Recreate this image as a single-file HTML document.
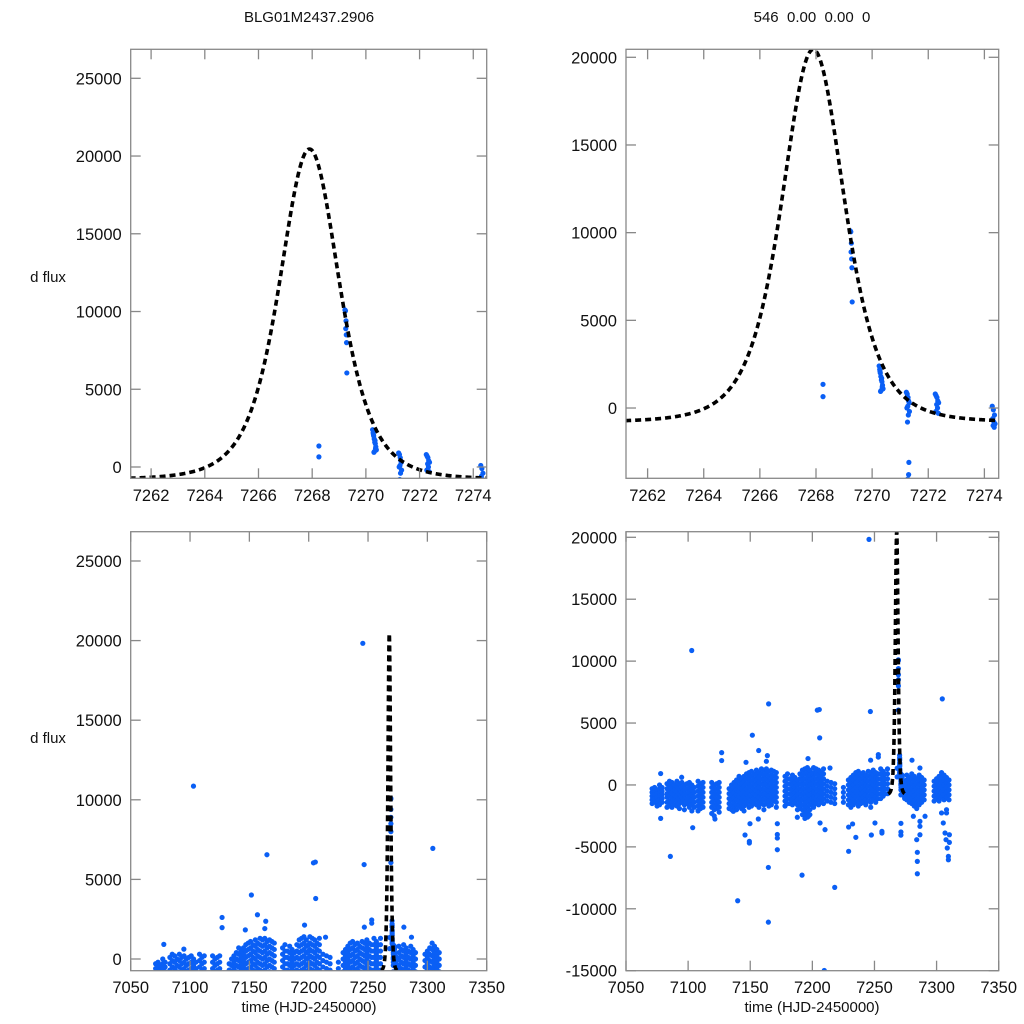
<!DOCTYPE html>
<html><head><meta charset="utf-8"><style>
html,body{margin:0;padding:0;background:#fff;overflow:hidden;width:1024px;height:1024px}
svg{display:block;font-family:"Liberation Sans",sans-serif}
</style></head><body>
<svg id="chart" width="1024" height="1024" viewBox="0 0 1024 1024" xmlns="http://www.w3.org/2000/svg">
<rect width="1024" height="1024" fill="#fff"/>
<text x="309" y="22" font-size="15" text-anchor="middle" fill="#111">BLG01M2437.2906</text>
<text x="812" y="22" font-size="15" text-anchor="middle" fill="#111" xml:space="preserve">546  0.00  0.00  0</text>
<text x="48" y="282" font-size="15" text-anchor="middle" fill="#111">d flux</text>
<text x="48" y="743" font-size="15" text-anchor="middle" fill="#111">d flux</text>
<text x="309" y="1012" font-size="15" text-anchor="middle" fill="#111">time (HJD-2450000)</text>
<text x="812" y="1012" font-size="15" text-anchor="middle" fill="#111">time (HJD-2450000)</text>
<g id="panels"></g>
</svg>
<script>
// ---- data: observation nights (time) and measured flux values ----
const nightT = [7071,7073,7075,7077,7079,7083,7085,7087,7089,7091,7093,7095,7097,7099,7101,7103,7105,7108,7110,7112,7119,7121,7123,7125,
7133,7135,7137,7139,7141,7143,7145,7147,7149,7151,7153,7155,7157,7159,7161,7163,7165,7167,7169,7171,
7178,7180,7182,7184,7186,7188,7190,7192,7194,7196,7198,7200,7201,7203,7205,7207,7209,7212,7215,7218,7225,
7229,7231,7233,7235,7237,7239,7241,7243,7245,7247,7249,7251,7253,7255,7257,7258.5,7260.5,
7276,7278,7280,7282,7284,7286,7288,7290,7298,7300,7302,7304,7306,7308,7310];
const nightF = [
[-300,-600,-900,-1200,-1500],[-200,-500,-800,-1100,-1400],[-400,-700,-1000,-1300,-1700],[0,-300,-600,-900,-1200,-1600],[-200,-500,-800,-1100,-1400],
[100,-300,-700,-1000,-1400,-1800],[300,-100,-500,-900,-1300,-1700],[200,-200,-600,-1000,-1400,-1800],[0,-400,-800,-1200,-1600],[300,-100,-500,-900,-1300,-1700],
[100,-300,-700,-1100,-1500,-1900],[200,-200,-600,-1000,-1400],[0,-400,-800,-1200,-1600,-2000],[100,-300,-700,-1100,-1500],[200,-200,-600,-1000,-1400,-1800],
[0,-400,-800,-1200,-1600,-2100],[-200,-600,-1000,-1400,-1800],
[300,-100,-500,-900,-1300,-1700,-2100],[100,-300,-700,-1100,-1500,-1900],[200,-200,-600,-1000,-1400,-1800],
[200,-200,-600,-1000,-1400,-1800,-2300],[0,-400,-800,-1200,-1600,-2000,-2500],[100,-300,-700,-1100,-1500,-1900],[200,-200,-600,-1000,-1400,-1800,-2200],
[-300,-700,-1100,-1500,-1900],[0,-400,-800,-1200,-1600,-2000],[200,-200,-600,-1000,-1400,-1800],[400,0,-400,-800,-1200,-1600,-2000],[700,300,-100,-500,-900,-1300,-1700],
[500,100,-300,-700,-1100,-1500,-1900],[700,300,-100,-500,-900,-1300,-1700,-2100],[900,500,100,-300,-700,-1100,-1500],[1000,600,200,-200,-600,-1000,-1400,-1800],
[1100,700,300,-100,-500,-900,-1300,-1700],[900,500,100,-300,-700,-1100,-1500],[1200,800,400,0,-400,-800,-1200,-1600],[1000,600,200,-200,-600,-1000,-1400,-1800],
[1300,900,500,100,-300,-700,-1100,-1500],[1200,800,400,0,-400,-800,-1200,-1600,-2000],[1300,900,500,100,-300,-700,-1100,-1500],[1100,700,300,-100,-500,-900,-1300,-1700],
[1200,800,400,0,-400,-800,-1200,-1600],[1100,700,300,-100,-500,-900,-1300],[1000,600,200,-200,-600,-1000,-1400,-1800],
[700,300,-100,-500,-900,-1300,-1700],[900,500,100,-300,-700,-1100,-1500],[500,100,-300,-700,-1100,-1500],[800,400,0,-400,-800,-1200,-1600],[600,200,-200,-600,-1000,-1400],
[400,0,-400,-800,-1200,-1600,-2000],[900,500,100,-300,-700,-1100,-1500,-1900],[1200,800,400,0,-400,-800,-1200,-1600,-2000,-2400],[1300,900,500,100,-300,-700,-1100,-1500,-1900,-2300,-2700],
[1400,1000,600,200,-200,-600,-1000,-1400,-1800,-2200,-2600],[1200,800,400,0,-400,-800,-1200,-1600,-2000,-2400],[900,500,100,-300,-700,-1100,-1500],
[1400,1000,600,200,-200,-600,-1000,-1400,-1800],[1300,900,500,100,-300,-700,-1100,-1500],[1200,800,400,0,-400,-800,-1200,-1600],[1000,600,200,-200,-600,-1000,-1400],
[1300,900,500,100,-300,-700,-1100,-1500],[300,-100,-500,-900,-1300],[200,-200,-600,-1000,-1400],[100,-300,-700,-1100,-1500],[-200,-600,-1000,-1400],
[400,0,-400,-800,-1200,-1600],[600,200,-200,-600,-1000,-1400,-1800],[800,400,0,-400,-800,-1200,-1600],[1000,600,200,-200,-600,-1000,-1400],[1100,700,300,-100,-500,-900,-1300,-1700],
[900,500,100,-300,-700,-1100,-1500],[1000,600,200,-200,-600,-1000,-1400],[800,400,0,-400,-800,-1200,-1600],[1100,700,300,-100,-500,-900,-1300],[1000,600,200,-200,-600,-1000,-1400,-1800],
[1200,800,400,0,-400,-800,-1200],[1000,600,200,-200,-600,-1000,-1400],[900,500,100,-300,-700,-1100],[1300,900,500,100,-300,-700,-1100],[1100,700,300,-100,-500,-900],
[900,500,100,-300,-700],[1300,900,500,100,-300,-700],
[800,400,0,-400,-800,-1200],[600,200,-200,-600,-1000,-1400],[900,500,100,-300,-700,-1100,-1500],[700,300,-100,-500,-900,-1300,-1700],[500,100,-300,-700,-1100,-1500,-1900],
[800,400,0,-400,-800,-1200,-1600],[600,200,-200,-600,-1000,-1400],[400,0,-400,-800,-1200],
[300,-100,-500,-900,-1300],[500,100,-300,-700,-1100],[700,300,-100,-500,-900,-1300],[1000,600,200,-200,-600,-1000],[800,400,0,-400,-800,-1200],[600,200,-200,-600,-1000],[400,0,-400,-800,-1200]
];
// event-night measurements
const eventT = [7268.25,7268.25,7269.22,7269.24,7269.26,7269.25,7269.27,7269.28,7269.29,
7270.25,7270.27,7270.29,7270.31,7270.33,7270.35,7270.37,7270.39,7270.3,7270.34,7270.28,7270.36,7270.32,
7271.22,7271.25,7271.28,7271.3,7271.32,7271.27,7271.24,7271.33,7271.29,7271.26,7271.31,7271.3,7271.27,
7272.25,7272.28,7272.31,7272.34,7272.37,7272.3,7272.33,7272.27,7272.36,
7274.28,7274.32,7274.36,7274.3,7274.34,7274.38,7274.31,7274.35];
const eventF = [1350,650,10100,10050,9400,8900,8500,8000,6050,
2400,2200,2000,1800,1600,1500,1300,1100,950,1700,2100,1200,1000,
900,800,600,400,300,100,0,-200,-400,-800,-3100,-3800,-4050,
800,700,600,400,300,200,0,-200,-300,
100,-100,-400,-600,-800,-900,-1000,-1100];
// outliers
const outT = [7245.6,7102.9,7164.8,7204,7205.6,7246.7,7304.6,7151.7,7205.9,7156.8,7127,7127,7163.8,7163,7146.6,7196.5,7253.1,7253.1,7246.9,7280.2,7286.6,7077.9,7094.8,7214.2,
7077.9,7103.7,7085.7,7139.9,7164.6,7164.6,7191.7,7218,7209.6,7229.2,7145.8,7149.3,7149.3,7171.8,7171.8,7171.8,7171.8,7149.8,7229.2,7232.4,7235,7247.5,7250.4,7256,7256,
7284,7284.5,7284.5,7284.5,7286.6,7286.6,7286.6,7281.3,7290.7,7308,7308,7304,7305.4,7306.8,7307.6,7308.6,7309.5,7309.5,7310.3,7310.3,7187.9,7196.8,7206.2,7210.2,7136.4,7156.5,7121.6];
const outF = [19830,10860,6550,6040,6090,5930,6950,4020,3800,2780,2610,1970,2370,1910,1830,2130,2450,2250,2000,2000,1370,920,620,1370,
-2700,-3450,-5770,-9350,-11080,-6660,-7280,-8270,-14980,-5360,-4040,-4550,-4690,-4000,-4290,-5230,-3130,-3130,-3400,-3150,-4230,-4040,-3070,-3750,-3880,
-4420,-5440,-6170,-7170,-3340,-2940,-4020,-2530,-2530,-2000,-2260,-2260,-3070,-3880,-4420,-5090,-5770,-6040,-4020,-4640,-2610,-2530,-3070,-3610,-2130,-2750,-2750];
// model curve parameters: t0, peak flux, baseline, width, exponent
const modelParams = [7267.9, 20450, -800, 2.33, 2.5];
const modelRange = [7261.2, 7274.5];
// axis tick values
const ticksXZoom = [7262,7264,7266,7268,7270,7272,7274];
const ticksXFull = [7050,7100,7150,7200,7250,7300,7350];
const ticksYA = [0,5000,10000,15000,20000,25000];
const ticksYB = [0,5000,10000,15000,20000];
const ticksYD = [-15000,-10000,-5000,0,5000,10000,15000,20000];

const panels = [
 {name:'top-left',L:130.7,R:486.7,T:49.3,B:478.3,x0:7261.24,x1:7274.5,y0:-727,y1:26865,xt:ticksXZoom,yt:ticksYA,xl:495},
 {name:'top-right',L:626,R:998.7,T:49.3,B:478.3,x0:7261.23,x1:7274.51,y0:-4008,y1:20456,xt:ticksXZoom,yt:ticksYB,xl:495},
 {name:'bottom-left',L:130.7,R:486.7,T:531.7,B:970.7,x0:7050,x1:7350,y0:-735,y1:26840,xt:ticksXFull,yt:ticksYA,xl:987},
 {name:'bottom-right',L:626,R:998.7,T:531.7,B:970.7,x0:7050,x1:7350,y0:-15000,y1:20452,xt:ticksXFull,yt:ticksYD,xl:987}
];
function model(t){const [t0,pk,base,w,p]=modelParams;const x=(t-t0)/w;return base+(pk-base)*Math.pow(1+x*x,-p);}
const NS='http://www.w3.org/2000/svg';
function mk(tag,attrs,parent){const e=document.createElementNS(NS,tag);for(const k in attrs)e.setAttribute(k,attrs[k]);parent.appendChild(e);return e;}
const root=document.getElementById('panels');
panels.forEach((P,pi)=>{
 const sx=v=>P.L+(v-P.x0)/(P.x1-P.x0)*(P.R-P.L);
 const sy=v=>P.B-(v-P.y0)/(P.y1-P.y0)*(P.B-P.T);
 const g=mk('g',{},root);
 
 
 const cp=mk('clipPath',{id:'cp'+pi},g);
 mk('rect',{x:P.L,y:P.T,width:P.R-P.L,height:P.B-P.T},cp);
 const pts=mk('g',{'clip-path':'url(#cp'+pi+')',fill:'#0a5ff5'},g);
 
 
 const dot=(t,f)=>{const cx=sx(t),cy=sy(f);
  if(cx<P.L-4||cx>P.R+4||cy<P.T-4||cy>P.B+4)return;
  const c=mk('circle',{cx:cx.toFixed(2),cy:cy.toFixed(2),r:2.6},pts);
  
  };
 nightT.forEach((t,i)=>nightF[i].forEach(f=>dot(t,f)));
 eventT.forEach((t,i)=>dot(t,eventF[i]));
 outT.forEach((t,i)=>dot(t,outF[i]));
 let d='';
 for(let t=modelRange[0];t<=modelRange[1]+1e-9;t+=0.02){const x=sx(t),y=Math.max(P.T-2,sy(model(t)));d+=(d?'L':'M')+x.toFixed(2)+' '+y.toFixed(2);}
 const ln=mk('path',{d:d,fill:'none',stroke:'#000','stroke-width':3.6,'stroke-dasharray':'6 4','clip-path':'url(#cp'+pi+')'},g);
 
 
 const fr=mk('rect',{x:P.L,y:P.T,width:P.R-P.L,height:P.B-P.T,fill:'none',stroke:'#888','stroke-width':1.3},g);
 
 
 P.xt.forEach(v=>{const x=sx(v);
  mk('line',{x1:x,x2:x,y1:P.B,y2:P.B-10,stroke:'#888','stroke-width':1.3},g);
  mk('line',{x1:x,x2:x,y1:P.T,y2:P.T+10,stroke:'#888','stroke-width':1.3},g);
  const tx=mk('text',{x:x,y:P.xl+6,'font-size':16.5,'text-anchor':'middle',fill:'#111'},g);tx.textContent=v;
  
  });
 P.yt.forEach(v=>{const y=sy(v);
  mk('line',{x1:P.L,x2:P.L+10,y1:y,y2:y,stroke:'#888','stroke-width':1.3},g);
  mk('line',{x1:P.R,x2:P.R-10,y1:y,y2:y,stroke:'#888','stroke-width':1.3},g);
  const tx=mk('text',{x:P.L-9,y:y+6,'font-size':16.5,'text-anchor':'end',fill:'#111'},g);tx.textContent=v;
  
  });
});
</script>
</body></html>
